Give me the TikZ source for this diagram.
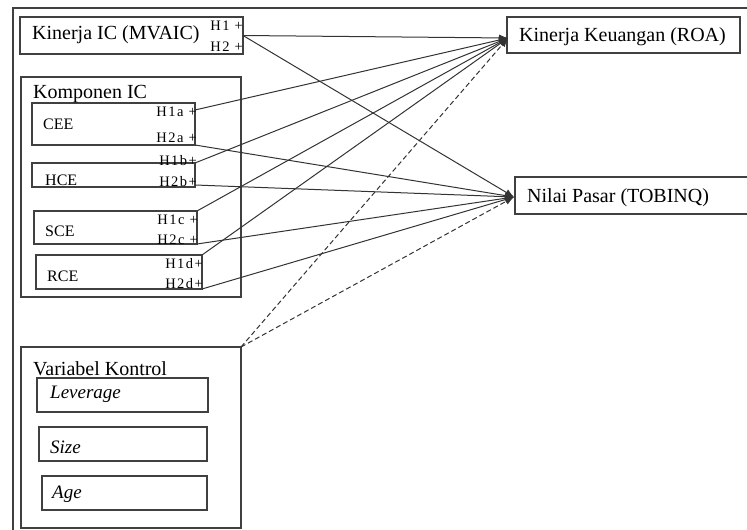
\documentclass[tikz,border=0pt]{standalone}
\usepackage{fontspec}
\setmainfont{Liberation Serif}
\usetikzlibrary{arrows.meta,calc}
\definecolor{ink}{HTML}{333333}
\definecolor{framec}{HTML}{404040}
\begin{document}
\begin{tikzpicture}[x=1pt,y=-1pt,
  box/.style={draw=framec,line width=1.2pt,inner sep=0pt,outer sep=0pt,anchor=north west},
  big/.style={inner sep=0pt,anchor=base west,font=\fontsize{20}{24}\selectfont},
  mid/.style={inner sep=0pt,anchor=base west,font=\fontsize{16}{19}\selectfont},
  ital/.style={inner sep=0pt,anchor=base west,font=\fontsize{19}{23}\selectfont\itshape},
  hyp/.style={inner sep=0pt,anchor=base east,font=\fontsize{14.5}{17}\selectfont\addfontfeature{LetterSpace=10}},
  link/.style={draw=ink,line width=1pt,-{Latex[length=9pt,width=7pt]}},
  ctrl/.style={link,dash pattern=on 5pt off 3pt}]
\useasboundingbox (0,0) rectangle (747,530);
% outer frame
\draw[framec,line width=1.2pt] (13,531) -- (13,8) -- (748,8);

% boxes
\node[box,minimum width=223pt,minimum height=37pt] (mvaic) at (20,17) {};
\node[box,minimum width=233pt,minimum height=36pt] (roa) at (507,17) {};
\node[box,minimum width=240pt,minimum height=37pt] (tob) at (515,177) {};
\node[box,minimum width=220pt,minimum height=220pt] (komp) at (21,77) {};
\node[box,minimum width=163pt,minimum height=42pt] (cee) at (32,103) {};
\node[box,minimum width=163pt,minimum height=24pt] (hce) at (32,163) {};
\node[box,minimum width=163pt,minimum height=33pt] (sce) at (34,211) {};
\node[box,minimum width=166pt,minimum height=34pt] (rce) at (36,255) {};
\node[box,minimum width=220pt,minimum height=181pt] (vk) at (21,347) {};
\node[box,minimum width=171pt,minimum height=34pt] (lev) at (37,378) {};
\node[box,minimum width=168pt,minimum height=34pt] (siz) at (39,427) {};
\node[box,minimum width=165pt,minimum height=34pt] (agebox) at (42,476) {};

% texts
\node[big] (tmvaic) at (32,39) {Kinerja IC (MVAIC)};
\node[hyp] (th1) at (243,30) {H1 +};
\node[hyp] (th2) at (243,51.5) {H2 +};
\node[big] (troa) at (519,41.5) {Kinerja Keuangan (ROA)};
\node[big] (ttob) at (527,202.5) {Nilai Pasar (TOBINQ)};
\node[big] (tkomp) at (33,98) {Komponen IC};
\node[mid] (tcee) at (43,129) {CEE};
\node[mid] (thce) at (45,185) {HCE};
\node[mid] (tsce) at (45,236.5) {SCE};
\node[mid] (trce) at (47,281.5) {RCE};
\node[hyp] (th1a) at (197,116) {H1a +};
\node[hyp] (th2a) at (197,142) {H2a +};
\node[hyp] (th1b) at (197,165) {H1b+};
\node[hyp] (th2b) at (197,186.5) {H2b+};
\node[hyp] (th1c) at (198,224) {H1c +};
\node[hyp] (th2c) at (198,244) {H2c +};
\node[hyp] (th1d) at (203,268) {H1d+};
\node[hyp] (th2d) at (203,288) {H2d+};
\node[big] (tvk) at (33,375) {Variabel Kontrol};
\node[ital] (tlev) at (50,398.5) {Leverage};
\node[ital] (tsiz) at (50,453.5) {Size};
\node[ital] (tage) at (52,498.5) {Age};

% arrow targets
\coordinate (roaIn) at ($(roa.west)+(1,3)$);
\coordinate (tobIn) at ($(tob.west)+(-1,1.5)$);

% connectors
\draw[link] (mvaic.east) -- (roaIn);
\draw[link] (mvaic.east) -- (tobIn);
\draw[link] ($(cee.north east)+(0,7)$) -- (roaIn);
\draw[link] (cee.south east) -- (tobIn);
\draw[link] (hce.north east) -- (roaIn);
\draw[link] ($(hce.south east)+(0,-2)$) -- (tobIn);
\draw[link] (sce.north east) -- (roaIn);
\draw[link] (sce.south east) -- (tobIn);
\draw[link] (rce.north east) -- (roaIn);
\draw[link] (rce.south east) -- (tobIn);
\draw[ctrl] (vk.north east) -- (roaIn);
\draw[ctrl] (vk.north east) -- (tobIn);
\end{tikzpicture}
\end{document}
